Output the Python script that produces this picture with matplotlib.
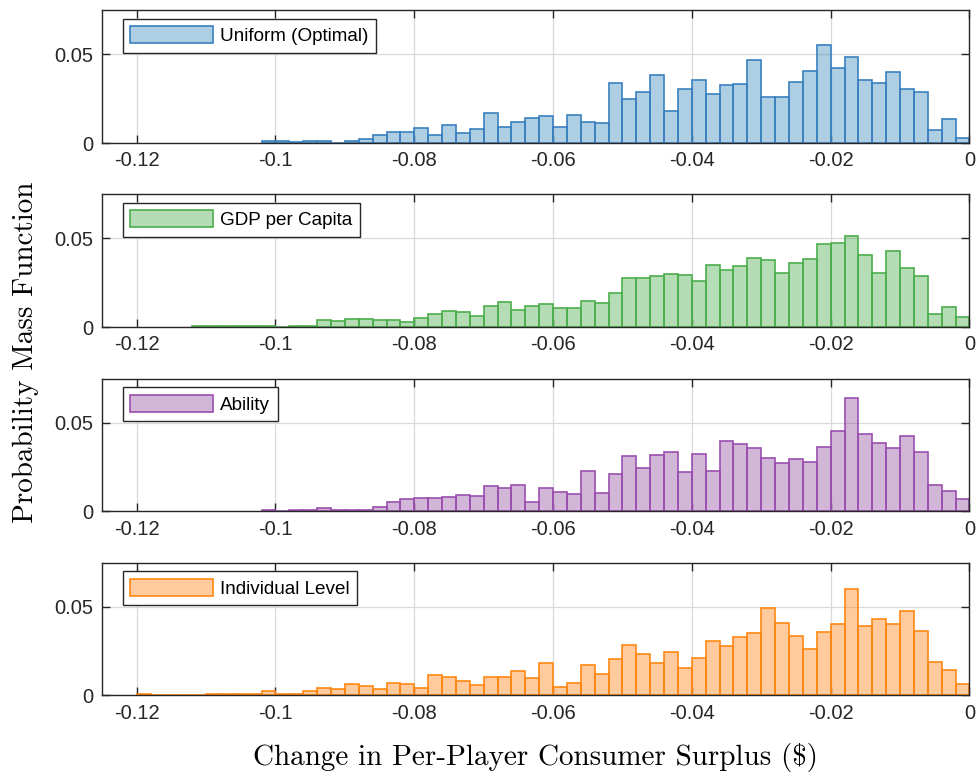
import matplotlib
matplotlib.use("Agg")
import matplotlib.pyplot as plt
from matplotlib.colors import to_rgba
import numpy as np

# bins of width 0.002, left edges from -0.120 to -0.002
bin_width = 0.002
bin_left = np.round(np.linspace(-0.120, -0.002, 60), 3)

uniform = [0, 0, 0, 0, 0, 0, 0, 0, 0, 0.0010,
           0.0010, 0.0004, 0.0010, 0.0010, 0.0002, 0.0010, 0.0025, 0.0043, 0.0062, 0.0060,
           0.0085, 0.0043, 0.0104, 0.0055, 0.0081, 0.0172, 0.0090, 0.0117, 0.0140, 0.0153,
           0.0092, 0.0157, 0.0119, 0.0115, 0.0338, 0.0249, 0.0287, 0.0381, 0.0183, 0.0302,
           0.0353, 0.0279, 0.0328, 0.0332, 0.0470, 0.0257, 0.0257, 0.0347, 0.0404, 0.0551,
           0.0423, 0.0483, 0.0357, 0.0338, 0.0398, 0.0302, 0.0285, 0.0072, 0.0136, 0.0030]

gdp = [0, 0, 0, 0, 0.0003, 0.0004, 0.0008, 0.0004, 0.0003, 0.0008,
       0.0001, 0.0008, 0.0008, 0.0040, 0.0033, 0.0044, 0.0044, 0.0037, 0.0037, 0.0031,
       0.0052, 0.0071, 0.0090, 0.0083, 0.0062, 0.0121, 0.0140, 0.0096, 0.0119, 0.0129,
       0.0108, 0.0110, 0.0146, 0.0135, 0.0190, 0.0275, 0.0277, 0.0287, 0.0300, 0.0292,
       0.0262, 0.0348, 0.0323, 0.0342, 0.0388, 0.0377, 0.0302, 0.0360, 0.0383, 0.0467,
       0.0475, 0.0513, 0.0404, 0.0302, 0.0427, 0.0331, 0.0285, 0.0075, 0.0115, 0.0056]

ability = [0, 0, 0, 0, 0, 0, 0, 0, 0, 0.0011,
           0.0002, 0.0006, 0.0011, 0.0017, 0.0008, 0.0011, 0.0010, 0.0027, 0.0055, 0.0070,
           0.0074, 0.0074, 0.0084, 0.0091, 0.0087, 0.0141, 0.0133, 0.0148, 0.0053, 0.0133,
           0.0108, 0.0097, 0.0226, 0.0105, 0.0211, 0.0312, 0.0243, 0.0319, 0.0337, 0.0221,
           0.0327, 0.0230, 0.0395, 0.0382, 0.0359, 0.0300, 0.0272, 0.0295, 0.0280, 0.0361,
           0.0456, 0.0639, 0.0439, 0.0384, 0.0357, 0.0428, 0.0335, 0.0148, 0.0116, 0.0070]

individual = [0.0006, 0.0001, 0.0001, 0.0001, 0.0001, 0.0006, 0.0011, 0.0011, 0.0006, 0.0023,
              0.0006, 0.0011, 0.0027, 0.0040, 0.0036, 0.0063, 0.0053, 0.0036, 0.0068, 0.0063,
              0.0040, 0.0116, 0.0106, 0.0084, 0.0057, 0.0106, 0.0106, 0.0137, 0.0099, 0.0181,
              0.0048, 0.0072, 0.0173, 0.0120, 0.0205, 0.0283, 0.0232, 0.0181, 0.0247, 0.0156,
              0.0209, 0.0306, 0.0279, 0.0331, 0.0350, 0.0496, 0.0409, 0.0335, 0.0264, 0.0356,
              0.0403, 0.0603, 0.0392, 0.0433, 0.0401, 0.0475, 0.0361, 0.0188, 0.0143, 0.0067]

labels = ["Uniform (Optimal)", "GDP per Capita", "Ability", "Individual Level"]
series = [uniform, gdp, ability, individual]
base_colors = ["#1f77b4", "#2ca02c", "#7e2f8e", "#ff7f0e"]
face_alpha = [0.36, 0.35, 0.35, 0.40]
edge_colors = ["#3a80c0", "#4cae4c", "#9a4fae", "#ff8712"]

x_ticks = [-0.12, -0.1, -0.08, -0.06, -0.04, -0.02, 0]
x_tick_labels = ["-0.12", "-0.1", "-0.08", "-0.06", "-0.04", "-0.02", "0"]
y_ticks = [0, 0.05]
y_tick_labels = ["0", "0.05"]

plt.rcParams['font.family'] = ['Liberation Sans', 'DejaVu Sans']
dark = "#262626"

fig = plt.figure(figsize=(9.79, 7.79), dpi=100)
bottoms = [0.8164, 0.5802, 0.3434, 0.1072]

for i in range(4):
    ax = fig.add_axes([0.1042, bottoms[i], 0.886, 0.1707])
    heights = np.array(series[i])
    keep = heights > 0
    ax.bar(bin_left[keep], heights[keep], width=bin_width, align='edge',
           color=to_rgba(base_colors[i], face_alpha[i]), edgecolor=edge_colors[i],
           linewidth=1.2, label=labels[i], zorder=2)
    ax.set_xlim(-0.125, 0)
    ax.set_ylim(0, 0.075)
    ax.set_xticks(x_ticks)
    ax.set_xticklabels(x_tick_labels)
    ax.set_yticks(y_ticks)
    ax.set_yticklabels(y_tick_labels)
    ax.tick_params(direction='in', length=5.5, width=1, top=True, right=True,
                   labelsize=14.5, colors=dark, pad=6)
    ax.grid(True, color='#d9d9d9', linewidth=0.9, zorder=0)
    ax.set_axisbelow(True)
    for spine in ax.spines.values():
        spine.set_color(dark)
        spine.set_linewidth(1)
    leg = ax.legend(loc='upper left', bbox_to_anchor=(0.024, 0.935), borderaxespad=0,
                    fontsize=13.6, handlelength=4.4, handleheight=1.0,
                    handletextpad=0.35, borderpad=0.4, fancybox=False, framealpha=1)
    leg.get_frame().set_edgecolor(dark)
    leg.get_frame().set_linewidth(1)

fig.text(0.026, 0.548, "Probability Mass Function", rotation=90, ha='center', va='center',
         family='cmr10', fontsize=21)
fig.text(0.547, 0.027, "Change in Per-Player Consumer Surplus (\\$)", ha='center', va='center',
         family='cmr10', fontsize=21)

fig.savefig("out.png", dpi=100)
